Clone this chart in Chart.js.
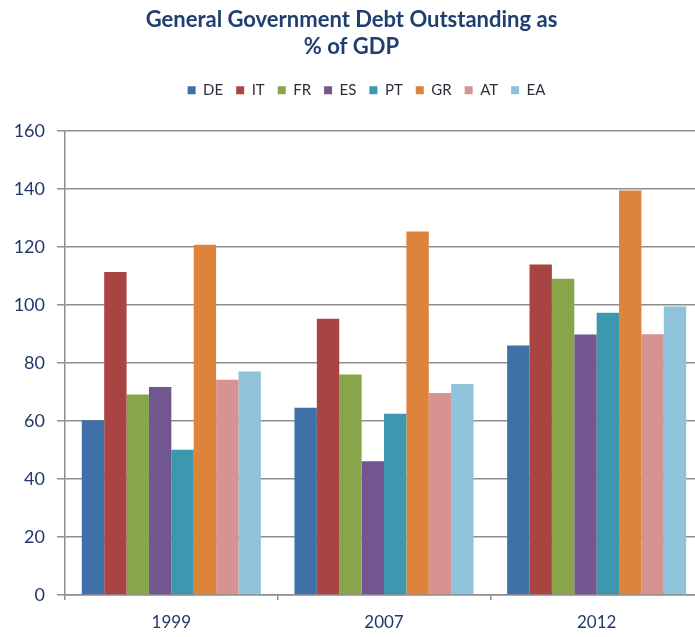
<!DOCTYPE html>
<html>
<head>
<meta charset="utf-8">
<script src="https://cdn.jsdelivr.net/npm/chart.js@4/dist/chart.umd.min.js"></script>
<style>
html,body{margin:0;padding:0;background:#fff;overflow:hidden;}
#wrap{width:703px;height:637px;position:relative;}
</style>
</head>
<body>
<div id="wrap"><canvas id="c"></canvas></div>
<script>
const categories = ['1999', '2007', '2012'];
const seriesNames = ['DE', 'IT', 'FR', 'ES', 'PT', 'GR', 'AT', 'EA'];
const DE = [60.2, 64.5, 86.0];
const IT = [111.3, 95.2, 113.9];
const FR = [69.1, 76.0, 109.0];
const ES = [71.7, 46.1, 89.8];
const PT = [50.1, 62.5, 97.3];
const GR = [120.7, 125.3, 139.4];
const AT = [74.2, 69.6, 89.9];
const EA = [77.0, 72.7, 99.4];
const yTicks = [0, 20, 40, 60, 80, 100, 120, 140, 160];
const colors = ['#4070A8', '#AA4442', '#88A54C', '#71568F', '#3C98AF', '#DD833B', '#D79392', '#8FC3D9'];

const seriesValues = [DE, IT, FR, ES, PT, GR, AT, EA];
const navy = '#22386A';
const gridCol = '#8E8E8E';

const legendSpace = {
  id: 'legendSpace',
  beforeLayout(chart) {
    const lg = chart.legend;
    if (lg && !lg._patched) {
      const f = lg.fit;
      lg.fit = function () { f.call(this); this.height += 23; };
      const d = lg.draw;
      lg.draw = function () {
        const ctx = this.ctx;
        ctx.save();
        ctx.translate(15, 0);
        d.apply(this, arguments);
        ctx.restore();
      };
      lg._patched = true;
    }
  }
};

new Chart(document.getElementById('c'), {
  type: 'bar',
  data: {
    labels: categories,
    datasets: seriesNames.map((n, i) => ({
      label: n,
      data: seriesValues[i],
      backgroundColor: colors[i],
      borderWidth: 0,
      barPercentage: 1.0,
      categoryPercentage: 0.842
    }))
  },
  plugins: [legendSpace],
  options: {
    responsive: true,
    maintainAspectRatio: false,
    animation: false,
    layout: { padding: { top: 7, bottom: 0, left: 0, right: 0 } },
    plugins: {
      title: {
        display: true,
        text: ['General Government Debt Outstanding as', '% of GDP'],
        color: '#1F3F70',
        font: { family: 'Lato', size: 22, weight: 'bold' },
        lineHeight: 1.15,
        padding: { top: 0, bottom: 10 },
        align: 'center'
      },
      legend: {
        display: true,
        position: 'top',
        labels: {
          boxWidth: 8,
          boxHeight: 8,
          color: '#2E2E3A',
          font: { family: 'Lato', size: 15 },
          padding: 13
        }
      },
      tooltip: { enabled: false }
    },
    scales: {
      x: {
        offset: true,
        afterFit: (s) => { s.height = 42; },
        grid: { display: true, drawOnChartArea: false, offset: true, color: gridCol, lineWidth: 1.5, tickLength: 5 },
        border: { display: true, color: gridCol, width: 1.5 },
        ticks: { color: navy, font: { family: 'Lato', size: 17 }, padding: 12 }
      },
      y: {
        min: 0,
        max: 160,
        afterBuildTicks: (s) => { s.ticks = yTicks.map(v => ({ value: v })); },
        afterFit: (s) => { s.width = 65; },
        grid: { color: gridCol, lineWidth: 1.5, tickLength: 8 },
        border: { display: true, color: gridCol, width: 1.5 },
        ticks: { color: navy, font: { family: 'Lato', size: 18 }, padding: 12 }
      }
    }
  }
});
</script>
</body>
</html>
